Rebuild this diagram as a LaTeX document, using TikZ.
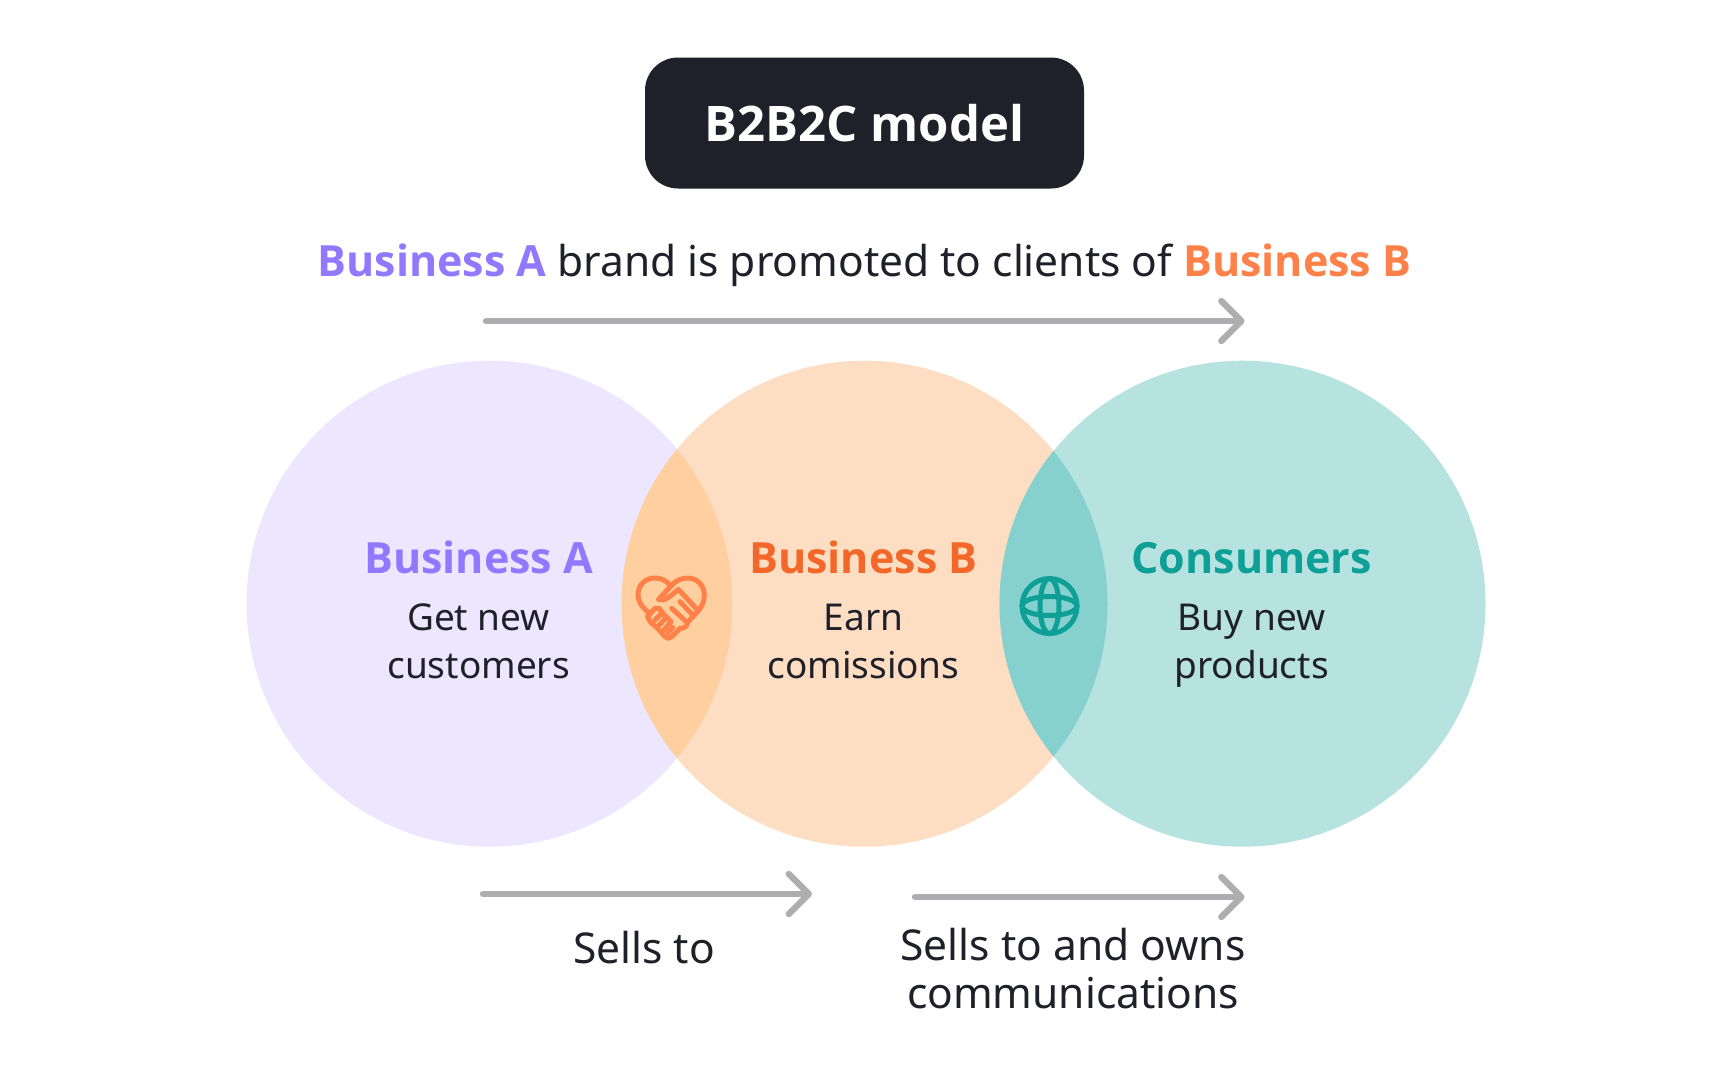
\documentclass[tikz,border=0pt]{standalone}
\usepackage{fontspec}
\setmainfont{Noto Sans}
\newfontfamily\semibold{Open Sans}
\usetikzlibrary{arrows.meta}
\definecolor{ink}{HTML}{1F2029}
\definecolor{purpleA}{HTML}{9179FF}
\definecolor{orangeA}{HTML}{FF814A}
\definecolor{orangeB}{HTML}{F3682A}
\definecolor{tealC}{HTML}{0E9F97}
\definecolor{fillA}{HTML}{ECE7FF}
\definecolor{fillB}{HTML}{FDDEC2}
\definecolor{fillC}{HTML}{B6E3E0}
\definecolor{fillAB}{HTML}{FFCFA0}
\definecolor{fillBC}{HTML}{86D1CE}
\definecolor{arrowgrey}{HTML}{AEAEB0}
\newcommand{\headfont}{\fontsize{43pt}{48pt}\semibold\bfseries\selectfont}
\newcommand{\bodyfont}{\fontsize{37pt}{48pt}\selectfont}
\newcommand{\largefont}{\fontsize{42.5pt}{48pt}\selectfont}
\begin{document}
\begin{tikzpicture}[x=1pt,y=-1pt]
\tikzstyle{venn}	= [circle, minimum size = 486pt, inner sep = 0pt] % define big circle
\tikzstyle{arrow}	= [line width = 6.4pt, color = arrowgrey, line cap = round, -{Straight Barb[length = 20pt, width = 40pt, round]}] % define standard arrow
\tikzstyle{line}	= [inner sep = 0pt, text height = 30pt, text depth = 9pt, color = ink, font = \bodyfont] % one line of text
\tikzstyle{bigline}	= [line, font = \largefont] % text outside the circles
\tikzstyle{head}	= [inner sep = 0pt, text height = 30pt, text depth = 9pt, font = \headfont] % coloured heading
\tikzstyle{icon}	= [line width = 5pt, line cap = round, line join = round]
\useasboundingbox (0,0) rectangle (1728,1080);

% title and sentence
\node(title)[fill = ink, rounded corners = 33pt, minimum width = 439pt, minimum height = 131pt, text = white, font = \fontsize{49pt}{54pt}\semibold\bfseries\selectfont] at (864.5,123){B2B2C model};
\node(promo)[bigline, below of = title, node distance = 143pt]{{\headfont\textcolor{purpleA}{Business A}} brand is promoted to clients of {\headfont\textcolor{orangeA}{Business B}}};

% three circles, overlaps clipped on top
\node(circB)[venn, fill = fillB] at (864.5,603.7){};
\node(circA)[venn, fill = fillA, left of = circB, node distance = 375pt]{};
\node(circC)[venn, fill = fillC, right of = circB, node distance = 378pt]{};
\begin{scope}
\clip (circA.center) circle (243pt);
\fill[fillAB] (circB.center) circle (243pt);
\end{scope}
\begin{scope}
\clip (circC.center) circle (243pt);
\fill[fillBC] (circB.center) circle (243pt);
\end{scope}

% labels in the circles
\node(headB)[head, color = orangeB] at (863.4,563){Business B};
\node(headA)[head, color = purpleA, left of = headB, node distance = 384.8pt]{Business A};
\node(headC)[head, color = tealC, right of = headB, node distance = 388.2pt]{Consumers};
\node(textA1)[line, below of = headA, node distance = 57pt]{Get new};
\node(textA2)[line, below of = textA1, node distance = 48pt]{customers};
\node(textB1)[line, below of = headB, node distance = 57pt]{Earn};
\node(textB2)[line, below of = textB1, node distance = 48pt]{comissions};
\node(textC1)[line, below of = headC, node distance = 57pt]{Buy new};
\node(textC2)[line, below of = textC1, node distance = 48pt]{products};

% arrows
\coordinate(topL) at (486,321);
\coordinate(topR) at (1244.5,321);
\coordinate(lowAL) at (483,894);
\coordinate(lowAR) at (812,894);
\coordinate(lowBL) at (915,897);
\coordinate(lowBR) at (1244.5,897);
\draw[arrow] (topL) -- (topR);
\draw[arrow] (lowAL) -- (lowAR);
\draw[arrow] (lowBL) -- (lowBR);

% labels under the arrows
\node(sellsA)[bigline] at (644,953){Sells to};
\node(sellsB1)[bigline] at (1073,950){Sells to and owns};
\node(sellsB2)[bigline, below of = sellsB1, node distance = 48pt]{communications};

% handshake heart
\begin{scope}[shift = {(600,540)}, x = 0.3333pt, y = -0.3333pt, icon, color = orangeA]
\draw (150,222) .. controls (125,200) and (114,185) .. (114,165) .. controls (114,135) and (135,114) .. (165,114) .. controls (183,114) and (200,122) .. (213,138);
\draw (176,178) -- (213,138) .. controls (225,122) and (245,114) .. (263,114) .. controls (292,114) and (313,137) .. (313,165) .. controls (313,185) and (305,200) .. (295,212);
\draw (176,178) .. controls (190,185) and (205,175) .. (235,148) -- (295,212) -- (262,248) .. controls (262,262) and (250,265) .. (240,265) -- (215,290) -- (205,295) -- (195,290) -- (170,262) -- (150,245) -- (142,228) -- (150,222) -- (165,205) -- (178,205) -- (187,218) -- (165,240);
\draw (187,218) -- (200,232) -- (178,255);
\draw (200,232) -- (213,245) -- (192,270);
\draw (218,262) -- (205,278);
\draw (215,205) -- (262,248);
\draw (240,185) -- (278,225);
\end{scope}

% globe
\begin{scope}[shift = {(1049.5,606)}, x = 1pt, y = -1pt, line width = 5pt, color = tealC]
\draw (0,0) circle (27.5);
\draw (0,0) ellipse (9.5 and 27.5);
\draw (0,0) ellipse (27.5 and 9.5);
\end{scope}
\end{tikzpicture}
\end{document}
